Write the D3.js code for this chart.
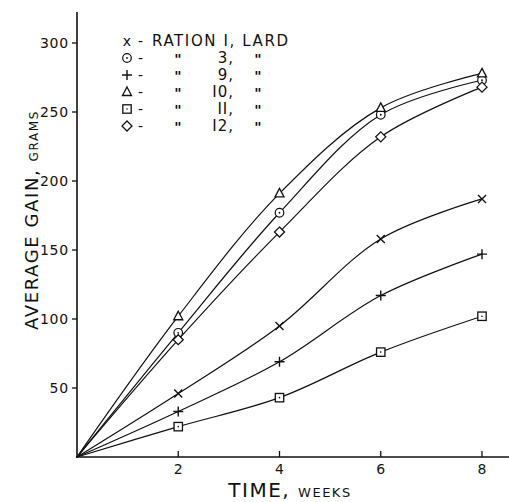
<!DOCTYPE html>
<html lang="en">
<head>
    <meta charset="UTF-8">
    <title>Average gain</title>
    <script type="text/javascript" src="https://cdn.jsdelivr.net/npm/d3@7"></script>
    <style type="text/css">
        body { margin: 0; background: #fff; }
        text { font-family: "DejaVu Sans", sans-serif; fill: #111; }
    </style>
</head>
<body>
    <script type="text/javascript">
        //Width and height
        var w = 509;
        var h = 502;

        //data
        var weeks = [0, 2, 4, 6, 8];
        var ration1 = [0, 46, 95, 158, 187];
        var ration3 = [0, 90, 177, 248, 273];
        var ration9 = [0, 33, 69, 117, 147];
        var ration10 = [0, 102, 191, 253, 278];
        var ration11 = [0, 22, 43, 76, 102];
        var ration12 = [0, 85, 163, 232, 268];

        var xTicks = [2, 4, 6, 8];
        var yTicks = [50, 100, 150, 200, 250, 300];

        var series = [
            { name: "1", sym: "x", values: ration1 },
            { name: "3", sym: "circle", values: ration3 },
            { name: "9", sym: "plus", values: ration9 },
            { name: "10", sym: "triangle", values: ration10 },
            { name: "11", sym: "square", values: ration11 },
            { name: "12", sym: "diamond", values: ration12 }
        ];

        var xScale = d3.scaleLinear().domain([0, 8]).range([77, 482]);
        var yScale = d3.scaleLinear().domain([0, 300]).range([457, 43]);

        var svg = d3.select("body")
            .append("svg")
            .attr("width", w)
            .attr("height", h);

        //axes
        svg.append("line")
            .attr("x1", 77).attr("x2", 77)
            .attr("y1", 12).attr("y2", 458)
            .attr("stroke", "#111").attr("stroke-width", 1.6);
        svg.append("line")
            .attr("x1", 76).attr("x2", 509)
            .attr("y1", 457).attr("y2", 457)
            .attr("stroke", "#111").attr("stroke-width", 1.6);

        //y ticks
        svg.selectAll(".ytick")
            .data(yTicks)
            .enter()
            .append("line")
            .attr("x1", 72).attr("x2", 77)
            .attr("y1", function(d) { return yScale(d); })
            .attr("y2", function(d) { return yScale(d); })
            .attr("stroke", "#111").attr("stroke-width", 1.3);
        svg.selectAll(".ylab")
            .data(yTicks)
            .enter()
            .append("text")
            .attr("x", 69)
            .attr("y", function(d) { return yScale(d) + 5; })
            .attr("text-anchor", "end")
            .attr("font-size", "14px")
            .attr("letter-spacing", "0.8px")
            .text(function(d) { return d; });

        //x ticks
        svg.selectAll(".xtick")
            .data(xTicks)
            .enter()
            .append("line")
            .attr("x1", function(d) { return xScale(d); })
            .attr("x2", function(d) { return xScale(d); })
            .attr("y1", 451).attr("y2", 457)
            .attr("stroke", "#111").attr("stroke-width", 1.3);
        svg.selectAll(".xlab")
            .data(xTicks)
            .enter()
            .append("text")
            .attr("x", function(d) { return xScale(d); })
            .attr("y", 474)
            .attr("text-anchor", "middle")
            .attr("font-size", "14px")
            .text(function(d) { return d; });

        //axis titles
        var xt = svg.append("text")
            .attr("x", 290).attr("y", 497)
            .attr("text-anchor", "middle")
            .attr("letter-spacing", "1.5px");
        xt.append("tspan").attr("font-size", "20px").text("TIME, ");
        xt.append("tspan").attr("font-size", "13px").text("WEEKS");

        var yt = svg.append("text")
            .attr("transform", "translate(38,220) rotate(-90)")
            .attr("text-anchor", "middle")
            .attr("letter-spacing", "1.6px");
        yt.append("tspan").attr("font-size", "18px").text("AVERAGE GAIN, ");
        yt.append("tspan").attr("font-size", "12px").text("GRAMS");

        //lines
        var line = d3.line()
            .x(function(d, i) { return xScale(weeks[i]); })
            .y(function(d) { return yScale(d); })
            .curve(d3.curveCatmullRom.alpha(0.5));

        svg.selectAll(".series")
            .data(series)
            .enter()
            .append("path")
            .attr("d", function(d) { return line(d.values); })
            .attr("fill", "none")
            .attr("stroke", "#111")
            .attr("stroke-width", 1.2);

        //marker drawing
        function drawSym(g, sym, x, y) {
            var s = 4;
            if (sym === "x") {
                g.append("path")
                    .attr("d", "M" + (x - s) + "," + (y - s) + "L" + (x + s) + "," + (y + s) +
                        "M" + (x - s) + "," + (y + s) + "L" + (x + s) + "," + (y - s))
                    .attr("stroke", "#111").attr("stroke-width", 1.4);
            } else if (sym === "plus") {
                g.append("path")
                    .attr("d", "M" + (x - 5) + "," + y + "L" + (x + 5) + "," + y +
                        "M" + x + "," + (y - 5) + "L" + x + "," + (y + 5))
                    .attr("stroke", "#111").attr("stroke-width", 1.4);
            } else if (sym === "circle") {
                g.append("circle").attr("cx", x).attr("cy", y).attr("r", 4.3)
                    .attr("fill", "#fff").attr("stroke", "#111").attr("stroke-width", 1.2);
                g.append("circle").attr("cx", x).attr("cy", y).attr("r", 0.9).attr("fill", "#111");
            } else if (sym === "triangle") {
                g.append("path")
                    .attr("d", "M" + x + "," + (y - 5) + "L" + (x + 4.5) + "," + (y + 3.5) + "L" + (x - 4.5) + "," + (y + 3.5) + "Z")
                    .attr("fill", "#fff").attr("stroke", "#111").attr("stroke-width", 1.3);
            } else if (sym === "square") {
                g.append("rect").attr("x", x - 4.2).attr("y", y - 4.2)
                    .attr("width", 8.4).attr("height", 8.4)
                    .attr("fill", "#fff").attr("stroke", "#111").attr("stroke-width", 1.3);
                g.append("circle").attr("cx", x).attr("cy", y).attr("r", 0.8).attr("fill", "#111");
            } else if (sym === "diamond") {
                g.append("path")
                    .attr("d", "M" + x + "," + (y - 5) + "L" + (x + 5) + "," + y + "L" + x + "," + (y + 5) + "L" + (x - 5) + "," + y + "Z")
                    .attr("fill", "#fff").attr("stroke", "#111").attr("stroke-width", 1.3);
            }
        }

        //markers (skip the origin)
        series.forEach(function(s) {
            var g = svg.append("g");
            s.values.forEach(function(v, i) {
                if (i === 0) return;
                drawSym(g, s.sym, xScale(weeks[i]), yScale(v));
            });
        });

        //legend
        var legY = 46;
        var legStep = 17;
        series.forEach(function(s, i) {
            var y = legY + i * legStep;
            var g = svg.append("g");
            if (i === 0) {
                svg.append("text").attr("x", 127).attr("y", y).attr("font-size", "14px")
                    .attr("text-anchor", "middle").text("x");
            } else {
                drawSym(g, s.sym, 127, y - 5);
            }
            svg.append("text").attr("x", 138).attr("y", y).attr("font-size", "14px").text("-");
            if (i === 0) {
                svg.append("text").attr("x", 152).attr("y", y)
                    .attr("font-size", "15px")
                    .attr("letter-spacing", "1.6px")
                    .text("RATION I, LARD");
            } else {
                svg.append("text").attr("x", 178).attr("y", y + 1).attr("font-size", "14px")
                    .attr("font-weight", "bold")
                    .attr("text-anchor", "middle").text("\"");
                svg.append("text").attr("x", 234).attr("y", y).attr("font-size", "15px")
                    .attr("letter-spacing", "1px")
                    .attr("text-anchor", "end").text(s.name.replace(/1/g, "I") + ",");
                svg.append("text").attr("x", 258).attr("y", y + 1).attr("font-size", "14px")
                    .attr("font-weight", "bold")
                    .attr("text-anchor", "middle").text("\"");
            }
        });
    </script>
</body>
</html>
